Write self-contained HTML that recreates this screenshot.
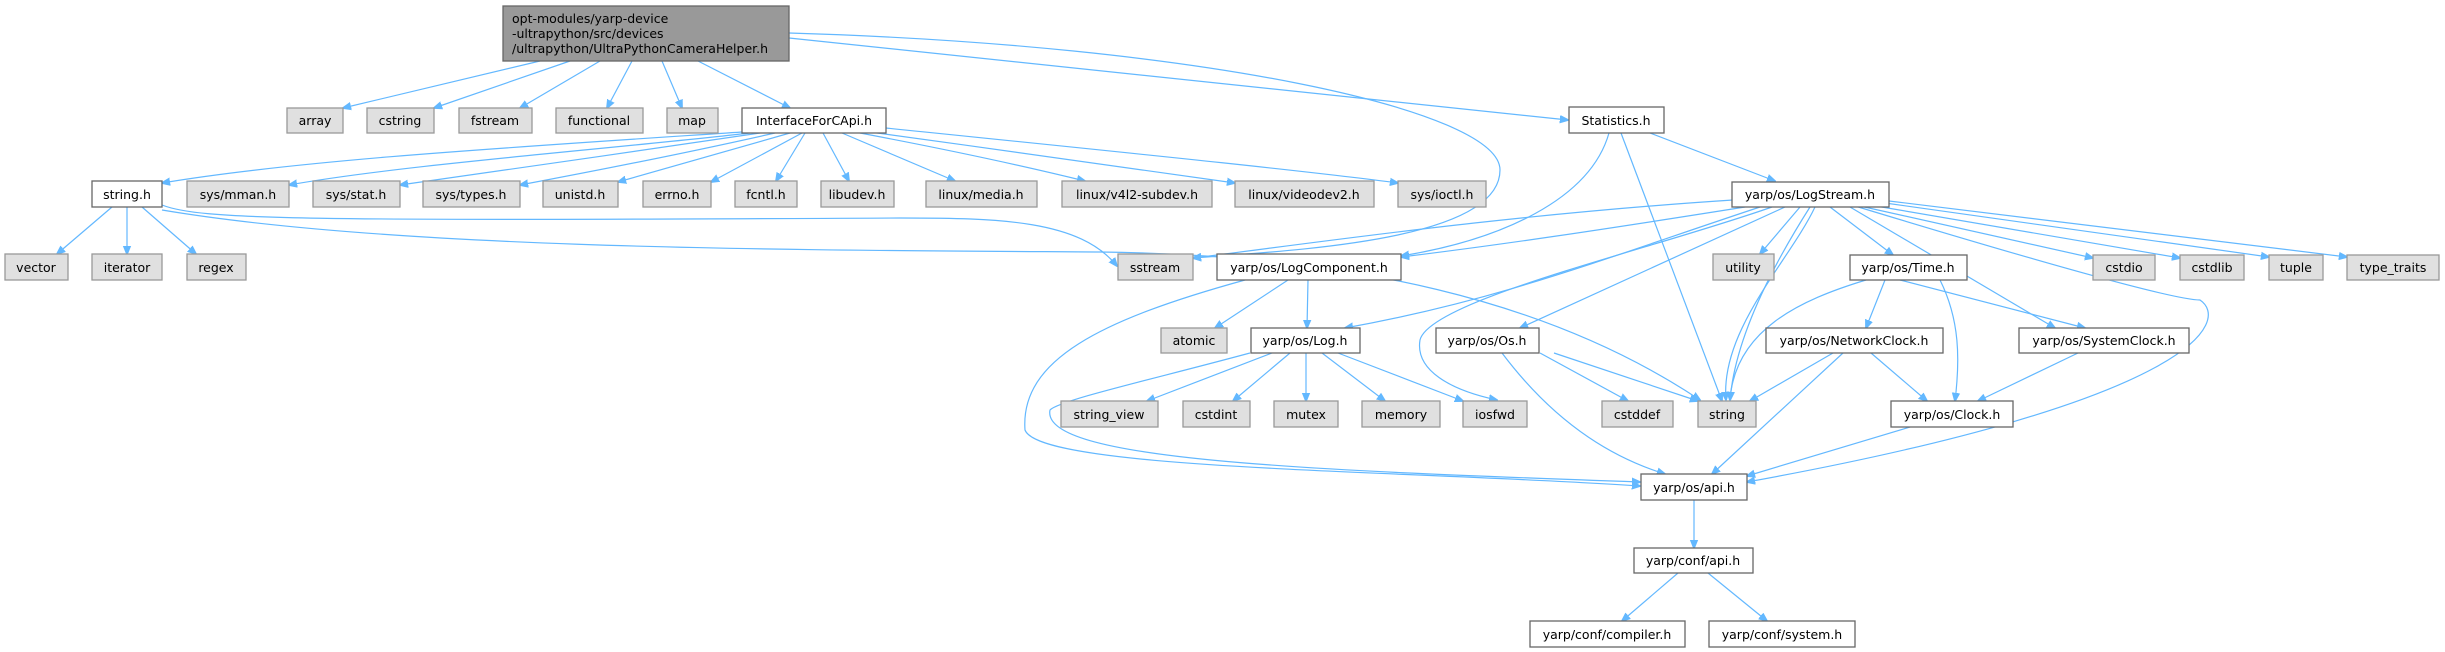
<!DOCTYPE html>
<html><head><meta charset="utf-8"><style>
html,body{margin:0;padding:0;background:#fff}
svg{display:block}
text{font-family:"DejaVu Sans","Liberation Sans",sans-serif;font-size:12.5px;fill:#000;text-anchor:middle}
.g{fill:#e0e0e0;stroke:#999;stroke-width:1.3}
.w{fill:#fff;stroke:#666;stroke-width:1.3}
.r{fill:#999;stroke:#666;stroke-width:1.3}
path{fill:none;stroke:#63b8ff;stroke-width:1.2}
</style></head><body>
<svg width="2445" height="652" viewBox="0 0 2445 652" xmlns="http://www.w3.org/2000/svg">
<defs><marker id="a" viewBox="0 0 10 10" refX="9" refY="5" markerWidth="9" markerHeight="9" orient="auto" markerUnits="userSpaceOnUse"><path d="M0,1 L10,5 L0,9 z" style="fill:#63b8ff;stroke:#63b8ff"/></marker></defs>
<g marker-end="url(#a)">
<!-- root -->
<path d="M540,61 L343,108"/>
<path d="M570,61 L434,108"/>
<path d="M600,61 L520,108"/>
<path d="M632,61 L607,108"/>
<path d="M662,61 L682,108"/>
<path d="M698,61 L790,108"/>
<path d="M789,38 L1568,120"/>
<path d="M789,33 C1200,45 1500,110 1500,170 C1500,240 1300,250 1193,258"/>
<!-- InterfaceForCApi -->
<path d="M742,132 C500,148 300,160 162,183"/>
<path d="M750,133 C600,150 400,165 289,185"/>
<path d="M760,133 C650,150 500,170 400,185"/>
<path d="M775,133 C700,150 600,170 520,185"/>
<path d="M790,133 L618,182"/>
<path d="M802,133 L711,182"/>
<path d="M805,133 L776,181"/>
<path d="M823,133 L849,181"/>
<path d="M842,133 L955,181"/>
<path d="M860,133 C950,150 1020,165 1085,181"/>
<path d="M870,132 C1000,150 1150,170 1235,183"/>
<path d="M886,128 C1100,150 1300,170 1398,183"/>
<!-- string.h -->
<path d="M112,207 L57,254"/>
<path d="M127,207 L127,254"/>
<path d="M142,207 L196,254"/>
<path d="M162,205 C200,220 300,221 900,218 C1000,218 1080,220 1117,266"/>
<path d="M162,210 C400,250 800,250 1100,252 C1350,255 1550,300 1700,400"/>
<!-- Statistics -->
<path d="M1609,133 C1590,200 1500,240 1401,256"/>
<path d="M1621,133 L1722,401"/>
<path d="M1650,133 L1775,181"/>
<!-- LogStream -->
<path d="M1733,200 C1500,215 1300,245 1193,258"/>
<path d="M1745,207 C1600,230 1500,245 1401,257"/>
<path d="M1760,207 C1600,260 1500,300 1345,328"/>
<path d="M1772,207 C1650,250 1430,300 1420,340 C1415,370 1450,390 1497,400"/>
<path d="M1785,207 L1520,328"/>
<path d="M1800,207 L1760,254"/>
<path d="M1815,207 C1790,260 1720,330 1726,400"/>
<path d="M1810,207 C1770,270 1735,340 1730,400"/>
<path d="M1830,207 L1893,255"/>
<path d="M1850,207 L2055,328"/>
<path d="M1855,206 C2000,250 2170,300 2200,300 C2230,320 2200,400 1747,482"/>
<path d="M1860,206 L2093,258"/>
<path d="M1870,205 L2180,258"/>
<path d="M1885,203 L2269,257"/>
<path d="M1889,201 L2347,257"/>
<!-- Time.h -->
<path d="M1866,280 C1800,300 1735,330 1730,400"/>
<path d="M1885,280 L1866,328"/>
<path d="M1900,280 L2085,328"/>
<path d="M1940,280 C1960,320 1960,360 1955,401"/>
<!-- NetworkClock -->
<path d="M1833,353 L1750,401"/>
<path d="M1843,353 L1712,474"/>
<path d="M1871,353 L1927,401"/>
<!-- SystemClock -->
<path d="M2078,353 L1978,401"/>
<!-- Clock -->
<path d="M1910,427 L1747,476"/>
<!-- LogComponent -->
<path d="M1288,280 L1215,328"/>
<path d="M1308,280 L1307,328"/>
<path d="M1245,280 C1100,320 1020,360 1025,430 C1040,470 1400,470 1640,486"/>
<!-- Log.h -->
<path d="M1272,353 L1147,401"/>
<path d="M1290,353 L1233,401"/>
<path d="M1306,353 L1306,401"/>
<path d="M1322,353 L1385,401"/>
<path d="M1338,353 L1463,401"/>
<path d="M1250,353 C1150,380 1060,400 1050,410 C1040,460 1300,470 1640,482"/>
<!-- Os.h -->
<path d="M1540,353 L1628,401"/>
<path d="M1554,353 L1698,401"/>
<path d="M1502,353 C1560,430 1620,460 1665,474"/>
<!-- api chain -->
<path d="M1694,500 L1694,548"/>
<path d="M1678,573 L1622,621"/>
<path d="M1708,573 L1767,621"/>
</g>
<!-- nodes -->
<rect class="r" x="503" y="6" width="286" height="55"/>
<text x="512" y="23" style="text-anchor:start">opt-modules/yarp-device</text>
<text x="512" y="38" style="text-anchor:start">-ultrapython/src/devices</text>
<text x="512" y="53" style="text-anchor:start">/ultrapython/UltraPythonCameraHelper.h</text>
<g>
<rect class="g" x="287" y="108" width="56" height="25"/><text x="315" y="125">array</text>
<rect class="g" x="367" y="108" width="67" height="25"/><text x="400" y="125">cstring</text>
<rect class="g" x="459" y="108" width="73" height="25"/><text x="495" y="125">fstream</text>
<rect class="g" x="556" y="108" width="87" height="25"/><text x="599" y="125">functional</text>
<rect class="g" x="667" y="108" width="51" height="25"/><text x="692" y="125">map</text>
<rect class="w" x="742" y="108" width="144" height="25"/><text x="814" y="125">InterfaceForCApi.h</text>
<rect class="w" x="1569" y="107" width="95" height="26"/><text x="1616" y="125">Statistics.h</text>

<rect class="w" x="92" y="181" width="70" height="26"/><text x="127" y="199">string.h</text>
<rect class="g" x="187" y="181" width="102" height="26"/><text x="238" y="199">sys/mman.h</text>
<rect class="g" x="313" y="181" width="87" height="26"/><text x="356" y="199">sys/stat.h</text>
<rect class="g" x="423" y="181" width="97" height="26"/><text x="471" y="199">sys/types.h</text>
<rect class="g" x="543" y="181" width="75" height="26"/><text x="580" y="199">unistd.h</text>
<rect class="g" x="643" y="181" width="68" height="26"/><text x="677" y="199">errno.h</text>
<rect class="g" x="735" y="181" width="62" height="26"/><text x="766" y="199">fcntl.h</text>
<rect class="g" x="821" y="181" width="73" height="26"/><text x="857" y="199">libudev.h</text>
<rect class="g" x="926" y="181" width="111" height="26"/><text x="981" y="199">linux/media.h</text>
<rect class="g" x="1062" y="181" width="150" height="26"/><text x="1137" y="199">linux/v4l2-subdev.h</text>
<rect class="g" x="1235" y="181" width="139" height="26"/><text x="1304" y="199">linux/videodev2.h</text>
<rect class="g" x="1398" y="181" width="88" height="26"/><text x="1442" y="199">sys/ioctl.h</text>
<rect class="w" x="1732" y="182" width="157" height="25"/><text x="1810" y="199">yarp/os/LogStream.h</text>

<rect class="g" x="5" y="254" width="63" height="26"/><text x="36" y="272">vector</text>
<rect class="g" x="92" y="254" width="70" height="26"/><text x="127" y="272">iterator</text>
<rect class="g" x="187" y="254" width="59" height="26"/><text x="216" y="272">regex</text>
<rect class="g" x="1118" y="254" width="75" height="26"/><text x="1155" y="272">sstream</text>
<rect class="w" x="1217" y="254" width="184" height="26"/><text x="1309" y="272">yarp/os/LogComponent.h</text>
<rect class="g" x="1713" y="254" width="61" height="26"/><text x="1743" y="272">utility</text>
<rect class="w" x="1850" y="255" width="117" height="25"/><text x="1908" y="272">yarp/os/Time.h</text>
<rect class="g" x="2093" y="255" width="62" height="25"/><text x="2124" y="272">cstdio</text>
<rect class="g" x="2180" y="255" width="64" height="25"/><text x="2212" y="272">cstdlib</text>
<rect class="g" x="2269" y="255" width="54" height="25"/><text x="2296" y="272">tuple</text>
<rect class="g" x="2347" y="255" width="92" height="25"/><text x="2393" y="272">type_traits</text>

<rect class="g" x="1161" y="328" width="66" height="25"/><text x="1194" y="345">atomic</text>
<rect class="w" x="1251" y="328" width="109" height="25"/><text x="1305" y="345">yarp/os/Log.h</text>
<rect class="w" x="1436" y="328" width="103" height="25"/><text x="1487" y="345">yarp/os/Os.h</text>
<rect class="w" x="1766" y="328" width="177" height="25"/><text x="1854" y="345">yarp/os/NetworkClock.h</text>
<rect class="w" x="2019" y="328" width="170" height="25"/><text x="2104" y="345">yarp/os/SystemClock.h</text>

<rect class="g" x="1061" y="401" width="97" height="26"/><text x="1109" y="419">string_view</text>
<rect class="g" x="1183" y="401" width="67" height="26"/><text x="1216" y="419">cstdint</text>
<rect class="g" x="1274" y="401" width="64" height="26"/><text x="1306" y="419">mutex</text>
<rect class="g" x="1362" y="401" width="78" height="26"/><text x="1401" y="419">memory</text>
<rect class="g" x="1463" y="401" width="64" height="26"/><text x="1495" y="419">iosfwd</text>
<rect class="g" x="1602" y="401" width="71" height="26"/><text x="1637" y="419">cstddef</text>
<rect class="g" x="1698" y="401" width="58" height="26"/><text x="1727" y="419">string</text>
<rect class="w" x="1891" y="401" width="122" height="26"/><text x="1952" y="419">yarp/os/Clock.h</text>

<rect class="w" x="1641" y="474" width="106" height="26"/><text x="1694" y="492">yarp/os/api.h</text>
<rect class="w" x="1634" y="548" width="119" height="25"/><text x="1693" y="565">yarp/conf/api.h</text>
<rect class="w" x="1530" y="621" width="155" height="26"/><text x="1607" y="639">yarp/conf/compiler.h</text>
<rect class="w" x="1709" y="621" width="146" height="26"/><text x="1782" y="639">yarp/conf/system.h</text>
</g>
</svg>
</body></html>
